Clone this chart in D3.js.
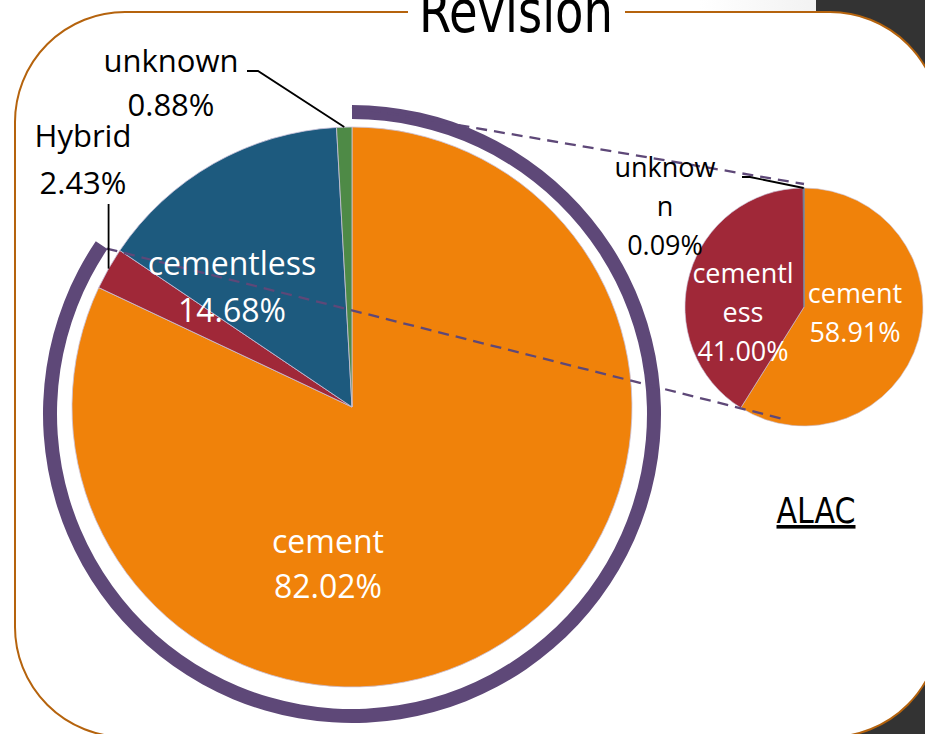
<!DOCTYPE html>
<html>
<head>
<meta charset="utf-8">
<script src="https://cdn.jsdelivr.net/npm/d3@7"></script>
<style>
  html, body { margin: 0; padding: 0; background: #fff; }
  svg { display: block; }
  .lbl { font-family: "Open Sans", "DejaVu Sans", sans-serif; }
  .narrow { font-family: "Liberation Sans Narrow", "DejaVu Sans Condensed", sans-serif; }
</style>
</head>
<body>
<script>
// main pie: all revisions
const mainCats = ["cement", "Hybrid", "cementless", "unknown"];
const mainVals = [82.02, 2.43, 14.68, 0.88];
// secondary pie: ALAC
const subCats = ["cement", "cementless", "unknown"];
const subVals = [58.91, 41.00, 0.09];

const colors = {
  cement: "#f0820a",
  Hybrid: "#a02838",
  cementless: "#1d5a7e",
  unknown: "#4e8a46"
};
const subColors = { cement: "#f0820a", cementless: "#a02838", unknown: "#6d7f98" };
const purple = "#5e4878";

const width = 925, height = 734;

const svg = d3.select("body").append("svg")
  .attr("width", width)
  .attr("height", height);

// slide background: dark strip on the right, faint shade at top
const defs = svg.append("defs");
const grad = defs.append("linearGradient").attr("id", "fade");
grad.append("stop").attr("offset", "0%").attr("stop-color", "#ffffff");
grad.append("stop").attr("offset", "100%").attr("stop-color", "#f2f2f2");
svg.append("rect").attr("x", 700).attr("y", 0).attr("width", 116).attr("height", 20).attr("fill", "url(#fade)");
svg.append("rect").attr("x", 816).attr("y", 0).attr("width", width - 816).attr("height", height).attr("fill", "#333333");

// rounded frame
svg.append("rect")
  .attr("x", 15).attr("y", 12)
  .attr("width", 925).attr("height", 725)
  .attr("rx", 110).attr("ry", 110)
  .attr("fill", "#ffffff")
  .attr("stroke", "#b5630d")
  .attr("stroke-width", 2);

// title sits on the frame line (its top is cut off, as in the slide)
svg.append("rect").attr("x", 408).attr("y", 0).attr("width", 217).attr("height", 24).attr("fill", "#fff");
svg.append("text")
  .attr("class", "narrow")
  .attr("x", 516).attr("y", 32)
  .attr("text-anchor", "middle")
  .attr("font-size", 58)
  .attr("textLength", 194)
  .attr("lengthAdjust", "spacingAndGlyphs")
  .attr("fill", "#000")
  .text("Revision");

// ---- main pie
const cx = 352, cy = 407, R = 280;
const pie = d3.pie().sort(null).value(d => d.v);
const mainData = pie(mainCats.map((c, i) => ({ c, v: mainVals[i] })));
const arc = d3.arc().innerRadius(0).outerRadius(R);

const gMain = svg.append("g").attr("transform", `translate(${cx},${cy})`);
gMain.selectAll("path.slice")
  .data(mainData)
  .enter().append("path")
  .attr("class", "slice")
  .attr("d", arc)
  .attr("fill", d => colors[d.data.c])
  .attr("stroke", "#c9c2da")
  .attr("stroke-width", 0.8);

// bracket ring around the part that is split out (cement + Hybrid)
const ringEnd = mainData[1].endAngle;
const ringCy = cy + 7, ringIn = 295, ringOut = 309;
svg.append("path")
  .attr("transform", `translate(${cx},${ringCy})`)
  .attr("d", d3.arc().innerRadius(ringIn).outerRadius(ringOut).startAngle(0).endAngle(ringEnd)())
  .attr("fill", purple);

// ---- secondary pie
const sx = 804, sy = 307, r2 = 119;
const subData = pie(subCats.map((c, i) => ({ c, v: subVals[i] })));
const arc2 = d3.arc().innerRadius(0).outerRadius(r2);
const gSub = svg.append("g").attr("transform", `translate(${sx},${sy})`);
gSub.selectAll("path.slice")
  .data(subData)
  .enter().append("path")
  .attr("class", "slice")
  .attr("d", arc2)
  .attr("fill", d => subColors[d.data.c])
  .attr("stroke", d => d.data.c === "unknown" ? "#6d7f98" : "#c9c2da")
  .attr("stroke-width", d => d.data.c === "unknown" ? 1.2 : 0.6);

// ---- dashed connectors
const polar = (x0, y0, r, a) => [x0 + r * Math.sin(a), y0 - r * Math.cos(a)];
const conn = [
  [polar(cx, ringCy, 307, 0), polar(sx, sy, r2 + 4, 0)],
  [polar(cx, ringCy, ringIn + 1, ringEnd), polar(sx, sy, r2 - 5, Math.PI * 1.055)]
];
svg.selectAll("line.conn")
  .data(conn)
  .enter().append("line")
  .attr("class", "conn")
  .attr("x1", d => d[0][0]).attr("y1", d => d[0][1])
  .attr("x2", d => d[1][0]).attr("y2", d => d[1][1])
  .attr("stroke", purple)
  .attr("stroke-width", 2.3)
  .attr("stroke-dasharray", "11,7");

// ---- leader lines
const mid = d => (d.startAngle + d.endAngle) / 2;
const unkMain = polar(cx, cy, R, mid(mainData[3]));
const hybMain = polar(cx, cy, R, mid(mainData[1]));
const unkSub = polar(sx, sy, r2, mid(subData[2]));
const leaders = [
  [[247, 71], [258, 71], unkMain],
  [[hybMain[0], 204], hybMain],
  [[742, 177], [750, 177], unkSub]
];
svg.selectAll("path.leader")
  .data(leaders)
  .enter().append("path")
  .attr("class", "leader")
  .attr("d", d => d3.line()(d))
  .attr("fill", "none")
  .attr("stroke", "#000")
  .attr("stroke-width", 1.8);

// ---- labels
function label(lines, x, y, size, fill, lh) {
  const t = svg.append("text")
    .attr("class", "lbl")
    .attr("text-anchor", "middle")
    .attr("font-size", size)
    .attr("fill", fill);
  lines.forEach((s, i) => {
    t.append("tspan").attr("x", x).attr("y", y + i * lh).text(s);
  });
}
const pct = v => v.toFixed(2) + "%";

label([mainCats[3], pct(mainVals[3])], 171, 72, 31, "#000", 44);
label([mainCats[1], pct(mainVals[1])], 83, 147, 31, "#000", 47);
label([mainCats[2], pct(mainVals[2])], 232, 275, 32, "#fff", 47);
label([mainCats[0], pct(mainVals[0])], 328, 553, 32, "#fff", 45);

label(["unknow", "n", pct(subVals[2])], 665, 177, 27, "#000", 39);
label(["cementl", "ess", pct(subVals[1])], 743, 283, 27, "#fff", 39);
label([subCats[0], pct(subVals[0])], 855, 303, 27, "#fff", 39);

// ALAC caption
svg.append("text")
  .attr("class", "narrow")
  .attr("x", 816).attr("y", 523)
  .attr("text-anchor", "middle")
  .attr("font-size", 36)
  .attr("textLength", 79)
  .attr("lengthAdjust", "spacingAndGlyphs")
  .attr("fill", "#000")
  .attr("text-decoration", "underline")
  .text("ALAC");
</script>
</body>
</html>
